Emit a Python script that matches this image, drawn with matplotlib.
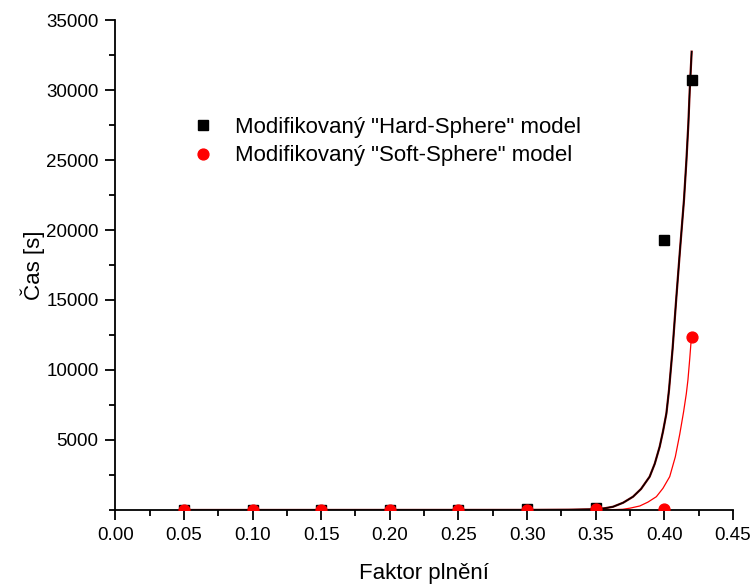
import matplotlib
matplotlib.use("Agg")
import matplotlib.pyplot as plt
from matplotlib.lines import Line2D
from matplotlib.ticker import MultipleLocator, FormatStrFormatter

plt.rcParams['font.family'] = ['Liberation Sans', 'DejaVu Sans']

# measured points
x_pts = [0.05, 0.10, 0.15, 0.20, 0.25, 0.30, 0.35, 0.40, 0.42]
hard_pts = [2, 3, 5, 9, 18, 40, 110, 19300, 30750]
soft_x = [0.05, 0.10, 0.15, 0.20, 0.25, 0.30, 0.35, 0.40, 0.42]
soft_pts = [1, 2, 3, 5, 10, 20, 40, 60, 12350]

# fitted curves
hard_fit_x = [0.05, 0.30, 0.33, 0.3505, 0.357, 0.3626, 0.37, 0.3772, 0.383, 0.3893,
              0.393, 0.3966, 0.399, 0.4015, 0.4034, 0.406, 0.4086, 0.4115, 0.4143,
              0.4161, 0.4175, 0.4185, 0.4199]
hard_fit_y = [0, 5, 20, 55, 130, 230, 520, 950, 1500, 2380,
              3300, 4520, 5600, 6900, 8570, 11500, 15000, 18700, 22140,
              25000, 27600, 30000, 32740]
soft_fit_x = [0.05, 0.35, 0.36, 0.3697, 0.375, 0.3821, 0.388, 0.3942, 0.399, 0.4039,
              0.408, 0.4112, 0.414, 0.416, 0.4172, 0.4185, 0.4197]
soft_fit_y = [0, 2, 15, 50, 130, 286, 560, 950, 1550, 2380,
              3800, 5400, 7000, 8300, 9300, 10800, 12340]

x_ticks = [0.00, 0.05, 0.10, 0.15, 0.20, 0.25, 0.30, 0.35, 0.40, 0.45]
y_ticks = [5000, 10000, 15000, 20000, 25000, 30000, 35000]

labels = ['Modifikovaný "Hard-Sphere" model', 'Modifikovaný "Soft-Sphere" model']

fig = plt.figure(figsize=(7.52, 5.87), dpi=100)
ax = fig.add_axes([0.1533, 0.1312, 0.8214, 0.8347])

ax.plot(hard_fit_x, hard_fit_y, color='#800000', lw=1.6, zorder=2)
ax.plot(hard_fit_x, hard_fit_y, color='black', lw=0.9, zorder=2.1)
ax.plot(soft_fit_x, soft_fit_y, color='red', lw=0.9, zorder=2.2)
ax.plot(x_pts, hard_pts, ls='none', marker='s', ms=6.8, color='black', zorder=3)
ax.plot(soft_x, soft_pts, ls='none', marker='o', ms=7.8, color='red', zorder=4)

ax.set_xlim(0, 0.45)
ax.set_ylim(0, 35000)
ax.set_xticks(x_ticks)
ax.set_yticks(y_ticks)
ax.xaxis.set_major_formatter(FormatStrFormatter('%.2f'))
ax.xaxis.set_minor_locator(MultipleLocator(0.025))
ax.yaxis.set_minor_locator(MultipleLocator(2500))

for s in ['top', 'right']:
    ax.spines[s].set_visible(False)
for s in ['left', 'bottom']:
    ax.spines[s].set_linewidth(1.3)

ax.tick_params(which='major', length=7, width=1.3, labelsize=13.5, pad=5)
ax.tick_params(which='minor', length=4, width=1.3)

ax.set_xlabel('Faktor plnění', fontsize=16, labelpad=14)
ax.set_ylabel('Čas [s]', fontsize=16, labelpad=1)

handles = [Line2D([], [], ls='none', marker='s', ms=6.8, color='black'),
           Line2D([], [], ls='none', marker='o', ms=7.8, color='red')]
ax.legend(handles, labels, loc='upper left', bbox_to_anchor=(0.11, 0.82),
          frameon=False, fontsize=16, handlelength=1.0, handletextpad=0.95,
          labelspacing=0.33, borderaxespad=0)

fig.savefig('out.png', dpi=100)
